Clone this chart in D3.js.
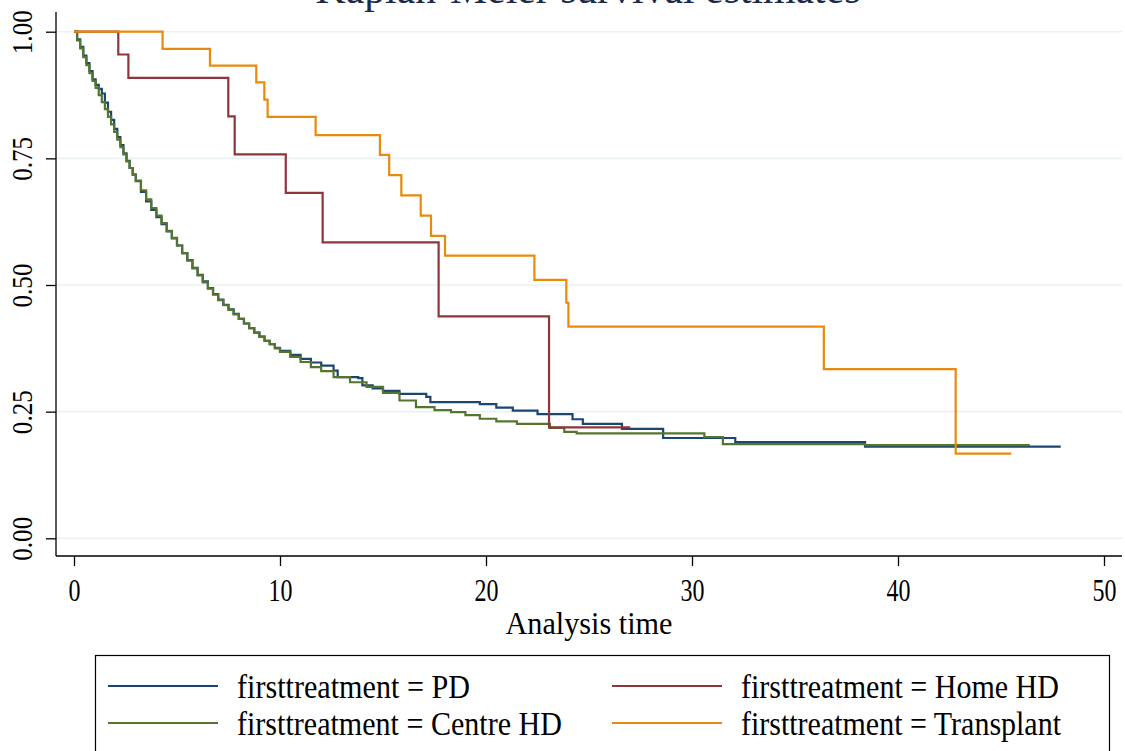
<!DOCTYPE html>
<html>
<head>
<meta charset="utf-8">
<script src="https://cdn.jsdelivr.net/npm/d3@7"></script>
<style>
  body { margin: 0; background: #fff; }
  svg { display: block; }
  text { font-family: "Liberation Serif", "Times New Roman", serif; }
</style>
</head>
<body>
<svg></svg>
<script>
// Kaplan-Meier estimates: time and survival per group
var pdTimes = [0, 0.15, 0.3, 0.45, 0.6, 0.75, 0.9, 1.05, 1.2, 1.35, 1.5, 1.65, 1.8, 1.95, 2.1, 2.25, 2.4, 2.55, 2.7, 2.85,
  3.0, 3.25, 3.5, 3.75, 4.0, 4.25, 4.5, 4.75, 5.0, 5.25, 5.5, 5.75, 6.0, 6.25, 6.5, 6.75, 7.0, 7.25, 7.5, 7.75,
  8.0, 8.25, 8.5, 8.75, 9.0, 9.25, 9.5, 9.75, 10.0, 10.5, 11.0, 11.5, 12.0, 12.6, 12.8, 13.8, 14.0, 14.5, 15.0, 15.8,
  17.1, 17.3, 19.7, 20.5, 21.3, 22.5, 24.2, 24.7, 26.6, 28.6, 32.1, 38.4, 47.9];
var pdSurv = [1.000, 0.985, 0.970, 0.953, 0.938, 0.922, 0.906, 0.895, 0.887, 0.878, 0.860, 0.842, 0.826, 0.808, 0.792, 0.776, 0.760, 0.745, 0.731, 0.718,
  0.705, 0.684, 0.665, 0.648, 0.634, 0.620, 0.606, 0.592, 0.578, 0.563, 0.549, 0.534, 0.520, 0.507, 0.494, 0.482, 0.471, 0.461, 0.452, 0.443,
  0.433, 0.424, 0.415, 0.406, 0.398, 0.390, 0.383, 0.376, 0.370, 0.362, 0.354, 0.347, 0.341, 0.331, 0.318, 0.316, 0.302, 0.296, 0.291, 0.285,
  0.279, 0.269, 0.265, 0.258, 0.252, 0.245, 0.235, 0.226, 0.216, 0.198, 0.190, 0.181, 0.181];

var centreTimes = [0, 0.15, 0.3, 0.45, 0.6, 0.75, 0.9, 1.05, 1.2, 1.35, 1.5, 1.65, 1.8, 1.95, 2.1, 2.25, 2.4, 2.55, 2.7, 2.85,
  3.0, 3.25, 3.5, 3.75, 4.0, 4.25, 4.5, 4.75, 5.0, 5.25, 5.5, 5.75, 6.0, 6.25, 6.5, 6.75, 7.0, 7.25, 7.5, 7.75,
  8.0, 8.25, 8.5, 8.75, 9.0, 9.25, 9.5, 9.75, 10.0, 10.5, 11.0, 11.5, 12.0, 12.6, 13.4, 14.2, 15.0, 15.8, 16.6, 17.5,
  18.3, 19.0, 19.7, 20.5, 21.5, 23.1, 23.8, 24.4, 30.6, 31.5, 38.4, 46.4];
var centreSurv = [1.000, 0.983, 0.967, 0.950, 0.934, 0.918, 0.903, 0.889, 0.875, 0.861, 0.847, 0.832, 0.817, 0.802, 0.787, 0.772, 0.758, 0.744, 0.731, 0.718,
  0.706, 0.687, 0.669, 0.652, 0.637, 0.622, 0.607, 0.593, 0.578, 0.563, 0.548, 0.533, 0.519, 0.505, 0.493, 0.481, 0.470, 0.460, 0.451, 0.442,
  0.433, 0.424, 0.415, 0.406, 0.398, 0.390, 0.383, 0.375, 0.368, 0.358, 0.348, 0.338, 0.330, 0.318, 0.308, 0.299, 0.287, 0.272, 0.259, 0.253,
  0.249, 0.243, 0.236, 0.231, 0.226, 0.218, 0.210, 0.207, 0.200, 0.186, 0.184, 0.184];

var homeTimes = [0, 2.15, 2.64, 7.49, 7.8, 10.28, 12.07, 17.7, 23.06, 27.0];
var homeSurv = [1.000, 0.955, 0.909, 0.833, 0.758, 0.682, 0.584, 0.438, 0.219, 0.219];

var transTimes = [0, 4.3, 6.6, 8.85, 9.24, 9.4, 11.73, 14.85, 15.3, 15.89, 16.83, 17.33, 18.01, 22.35, 23.9, 24.0, 36.4, 42.8, 45.5];
var transSurv = [1.000, 0.966, 0.933, 0.900, 0.866, 0.832, 0.796, 0.757, 0.717, 0.677, 0.637, 0.597, 0.558, 0.510, 0.465, 0.418, 0.334, 0.167, 0.167];

var seriesNames = ["firsttreatment = PD", "firsttreatment = Home HD", "firsttreatment = Centre HD", "firsttreatment = Transplant"];
var xTicks = [0, 10, 20, 30, 40, 50];
var yTicks = [0, 0.25, 0.5, 0.75, 1];

var width = 1125, height = 751;
var svg = d3.select("svg").attr("width", width).attr("height", height);

var x = d3.scaleLinear().domain([0, 50]).range([74, 1104]);
var y = d3.scaleLinear().domain([0, 1]).range([538.3, 31.7]);

var plotLeft = 56, plotRight = 1122, plotTop = 12, plotBottom = 556;

// title, mostly cut off at the top edge
svg.append("text")
  .attr("x", 588).attr("y", 3)
  .attr("text-anchor", "middle")
  .attr("font-size", 42)
  .attr("textLength", 545).attr("lengthAdjust", "spacingAndGlyphs")
  .attr("fill", "#1c2a4a")
  .text("Kaplan-Meier survival estimates");

// gridlines
svg.append("g").selectAll("line").data(yTicks).enter().append("line")
  .attr("x1", plotLeft).attr("x2", plotRight)
  .attr("y1", function (d) { return y(d); })
  .attr("y2", function (d) { return y(d); })
  .attr("stroke", "#eaf1f3").attr("stroke-width", 1.6);

// y axis
var yAxis = d3.axisLeft(y).tickValues(yTicks).tickSize(10).tickFormat(d3.format(".2f"));
var gy = svg.append("g").attr("transform", "translate(" + plotLeft + ",0)").call(yAxis);
gy.select(".domain").attr("d", "M0," + plotTop + "V" + plotBottom).attr("stroke", "#000").attr("stroke-width", 1.3);
gy.selectAll(".tick line").attr("stroke", "#000").attr("stroke-width", 1.3);
gy.selectAll(".tick text")
  .attr("font-size", 29).attr("font-family", "Liberation Serif").attr("fill", "#000")
  .attr("text-anchor", "middle")
  .attr("textLength", 44).attr("lengthAdjust", "spacingAndGlyphs")
  .attr("x", 0).attr("dy", 0)
  .attr("transform", "translate(-24,0) rotate(-90)");

// x axis
var xAxis = d3.axisBottom(x).tickValues(xTicks).tickSize(10).tickFormat(d3.format("d"));
var gx = svg.append("g").attr("transform", "translate(0," + plotBottom + ")").call(xAxis);
gx.select(".domain").attr("d", "M" + plotLeft + ",0H" + plotRight).attr("stroke", "#000").attr("stroke-width", 1.3);
gx.selectAll(".tick line").attr("stroke", "#000").attr("stroke-width", 1.3);
gx.selectAll(".tick text")
  .attr("font-size", 31).attr("font-family", "Liberation Serif").attr("fill", "#000")
  .attr("textLength", function (d) { return String(d).length * 12; })
  .attr("lengthAdjust", "spacingAndGlyphs")
  .attr("y", 45).attr("dy", 0);

svg.append("text")
  .attr("x", 589).attr("y", 634)
  .attr("text-anchor", "middle")
  .attr("font-size", 32)
  .attr("textLength", 167).attr("lengthAdjust", "spacingAndGlyphs")
  .text("Analysis time");

// survival curves
var line = d3.line()
  .x(function (d) { return x(d[0]); })
  .y(function (d) { return y(d[1]); })
  .curve(d3.curveStepAfter);

var curves = [
  { times: pdTimes, surv: pdSurv, color: "#1a476f" },
  { times: centreTimes, surv: centreSurv, color: "#55752f" },
  { times: homeTimes, surv: homeSurv, color: "#90353b" },
  { times: transTimes, surv: transSurv, color: "#e88a0c" }
];

svg.append("g").selectAll("path").data(curves).enter().append("path")
  .attr("d", function (c) { return line(d3.zip(c.times, c.surv)); })
  .attr("fill", "none")
  .attr("stroke", function (c) { return c.color; })
  .attr("stroke-width", 2.2);

// legend
var legendColors = ["#1a476f", "#90353b", "#55752f", "#e88a0c"];
var legendWidths = [233, 318, 325, 320];
svg.append("rect")
  .attr("x", 95.5).attr("y", 655.5).attr("width", 1014).attr("height", 110)
  .attr("fill", "#fff").attr("stroke", "#000").attr("stroke-width", 1.2);

var legend = svg.append("g").selectAll("g").data(seriesNames).enter().append("g")
  .attr("transform", function (d, i) {
    return "translate(" + (i % 2 === 0 ? 108 : 612) + "," + (i < 2 ? 686 : 723) + ")";
  });
legend.append("line")
  .attr("x1", 0).attr("x2", 110)
  .attr("stroke", function (d, i) { return legendColors[i]; })
  .attr("stroke-width", 2.2);
legend.append("text")
  .attr("x", 129).attr("dy", "0.35em")
  .attr("font-size", 33)
  .attr("textLength", function (d, i) { return legendWidths[i]; })
  .attr("lengthAdjust", "spacingAndGlyphs")
  .text(function (d) { return d; });
</script>
</body>
</html>
